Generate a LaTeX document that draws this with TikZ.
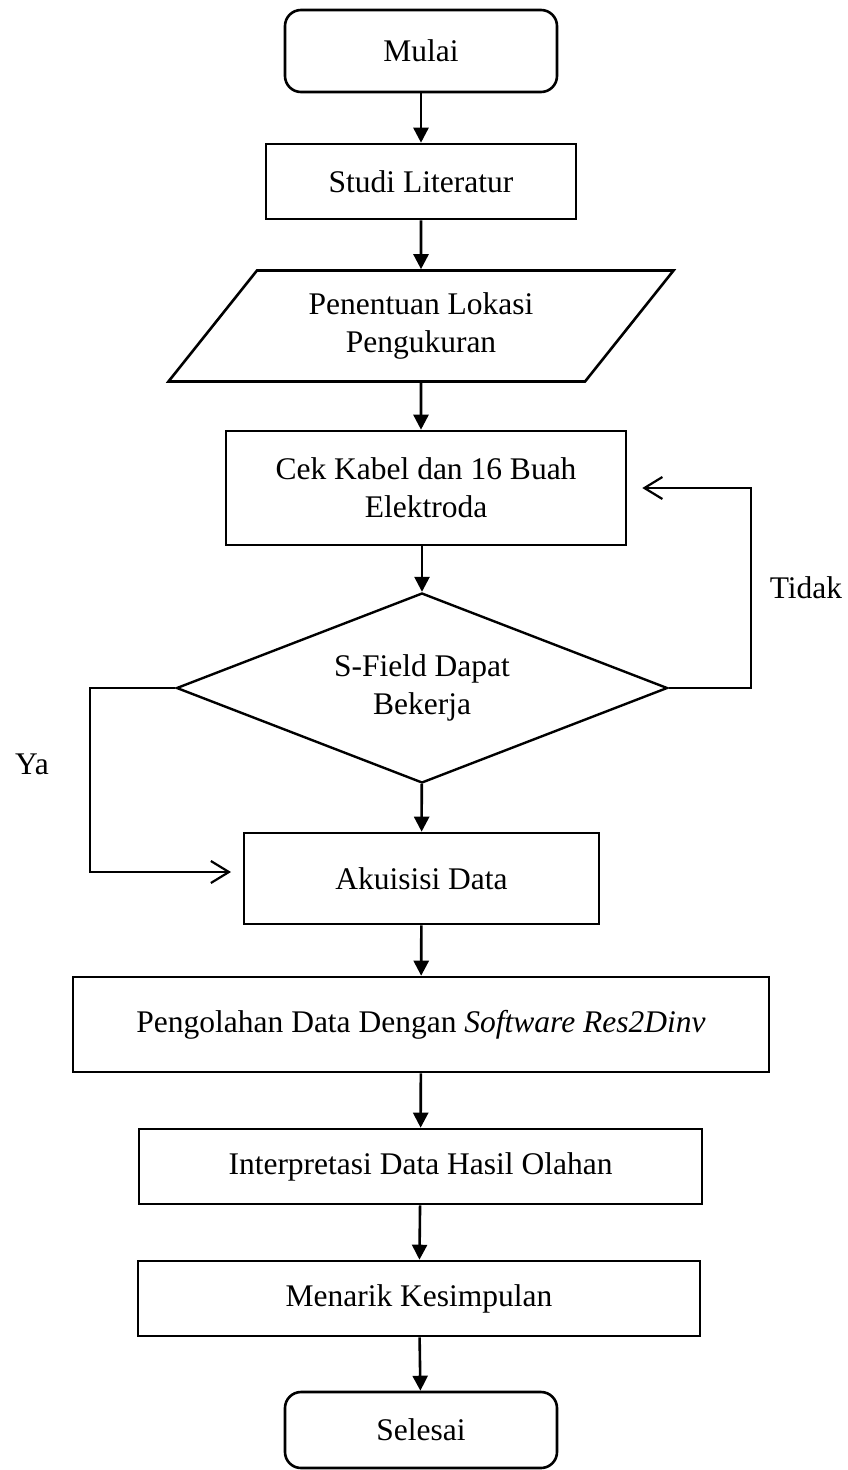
\documentclass[tikz,border=0pt]{standalone}
\usepackage{fontspec}
\setmainfont{Liberation Serif}
\usetikzlibrary{shapes.geometric,arrows.meta}

\begin{document}
\begin{tikzpicture}[x=1pt,y=-1pt,
    every node/.style={font={\fontsize{31.5}{38}\selectfont}, align=center},
    terminal/.style={draw, line width=2.6pt, rounded corners=16pt, inner sep=0pt},
    process/.style={draw, line width=2.6pt, inner sep=0pt},
    inputbox/.style={draw, line width=2.6pt, trapezium, trapezium left angle=47.7,
        trapezium right angle=132.3, trapezium stretches=true, inner sep=0pt},
    decision/.style={draw, line width=2.4pt, diamond, aspect=2.58, inner sep=0pt},
    flow/.style={line width=2.6pt, -{Triangle[length=15pt,width=15pt]}},
    branch/.style={line width=2.2pt, -{Straight Barb[length=18pt,width=22pt]}}]
    \useasboundingbox (0,0) rectangle (848,1470);

    % Main chain of steps
    \node[terminal, minimum width=272pt, minimum height=82pt] (mulai) at (421,51) {Mulai};
    \node[process, minimum width=310pt, minimum height=75pt] (studi) at (421,181.5) {Studi Literatur};
    \node[inputbox, minimum width=506pt, minimum height=111pt] (lokasi) at (421,326)
        {Penentuan Lokasi\\Pengukuran};
    \node[process, minimum width=400pt, minimum height=114pt] (cek) at (426,488)
        {Cek Kabel dan 16 Buah\\Elektroda};
    \node[decision, minimum width=491pt, minimum height=190pt] (sfield) at (422,688)
        {S-Field Dapat\\Bekerja};
    \node[process, minimum width=355pt, minimum height=91pt] (akuisisi) at (421.5,878.5) {Akuisisi Data};
    \node[process, minimum width=696pt, minimum height=95pt] (olah) at (421,1024.5)
        {Pengolahan Data Dengan \textit{Software Res2Dinv}};
    \node[process, minimum width=563pt, minimum height=75pt] (interpretasi) at (420.5,1166.5)
        {Interpretasi Data Hasil Olahan};
    \node[process, minimum width=562pt, minimum height=75pt] (simpulan) at (419,1298.5) {Menarik Kesimpulan};
    \node[terminal, minimum width=272pt, minimum height=76pt] (selesai) at (421,1430) {Selesai};

    % Arrows between steps
    \draw[flow] (mulai) -- (studi);
    \draw[flow] (studi) -- (lokasi);
    \draw[flow] (lokasi) -- (lokasi |- cek.north);
    \draw[flow] (sfield.north |- cek.south) -- (sfield.north);
    \draw[flow] (sfield) -- (akuisisi);
    \draw[flow] (akuisisi) -- (olah);
    \draw[flow] (olah) -- (interpretasi);
    \draw[flow] (interpretasi) -- (simpulan);
    \draw[flow] (simpulan) -- (selesai);

    % Decision branches
    \coordinate (tbend) at (751,688);
    \coordinate (tidakend) at ([xshift=15pt]cek.east);
    \draw[branch] (sfield.east) -| (tidakend -| tbend) -- (tidakend);
    \node (tidak) at (806,588) {Tidak};

    \coordinate (ybend) at (90,872);
    \coordinate (yaend) at (231,872);
    \draw[branch] (sfield.west) -| (ybend) -- (yaend);
    \node (ya) at (32,764) {Ya};
\end{tikzpicture}
\end{document}
